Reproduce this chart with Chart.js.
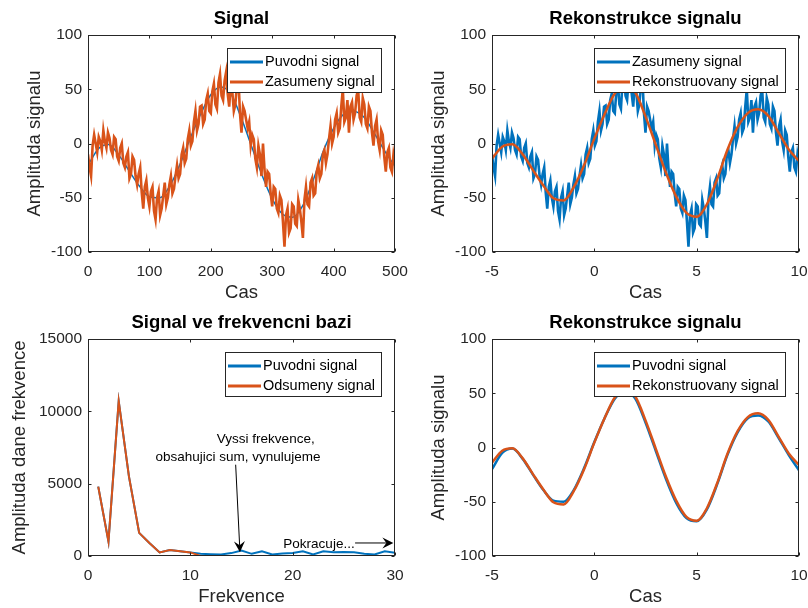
<!DOCTYPE html>
<html>
<head>
<meta charset="utf-8">
<script src="https://cdn.jsdelivr.net/npm/chart.js@4"></script>
<style>
  html, body { margin: 0; padding: 0; background: #fff; }
  #obal { position: relative; width: 808px; height: 608px; }
  #obal canvas { position: absolute; left: 0; top: 0; }
</style>
</head>
<body>
<div id="obal">
  <canvas id="signal" width="808" height="608"></canvas>
  <canvas id="rekonstrukce1" width="808" height="608"></canvas>
  <canvas id="spektrum" width="808" height="608"></canvas>
  <canvas id="rekonstrukce2" width="808" height="608"></canvas>
</div>
<script>
// zasumeny signal, vzorky 0..500 po 2.5
const krokVzorku = 2.5;
const zasumenySignal = [
  -10, -22, -30, -2, 8, 0, -8, 6, 2, -6,
  12, 2, -4, 10, 5, -6, -10, 6, 4, -12,
  -16, -4, 0, -18, -22, -12, -8, -32, -28, -12,
  -15, -30, -38, -28, -22, -45, -60, -40, -34, -50,
  -58, -44, -40, -62, -70, -50, -44, -66, -60, -48,
  -36, -56, -50, -38, -30, -46, -42, -30, -20, -32,
  -28, -10, -4, -18, -14, 4, 12, -2, 2, 20,
  30, 12, 18, 34, 35, 18, 22, 40, 46, 30,
  28, 48, 55, 36, 32, 56, 64, 44, 40, 58,
  66, 46, 34, 56, 48, 30, 36, 54, 60, 28,
  10, 34, 30, 22, 14, 20, -2, 8, 4, -14,
  -22, -2, -10, -30, 0, -24, -40, -26, -28, -46,
  -58, -40, -42, -60, -64, -48, -52, -72, -95, -66,
  -60, -82, -78, -56, -58, -74, -76, -52, -60, -72,
  -87, -52, -40, -56, -58, -36, -32, -48, -46, -26,
  -20, -32, -28, -10, -6, -18, -10, 4, 16, 0,
  6, 22, 28, 10, 14, 34, 50, 20, 24, 40,
  10, 34, 38, 22, 28, 44, 50, 24, 20, 42,
  36, 18, 14, 34, 30, 10, -2, 16, 22, 2,
  -6, 12, 8, -12, -26, -8, -4, -22, -26, -10,
  -18
];

// cas -5..10
const casOsa = [-5, -4.5, -4, -3.5, -3, -2.5, -2, -1.5, -1, -0.5, 0, 0.5, 1, 1.5, 2, 2.5,
  3, 3.5, 4, 4.5, 5, 5.5, 6, 6.5, 7, 7.5, 8, 8.5, 9, 9.5, 10];
const puvodniSignal = [-20, -5, -1, -10.5, -25, -39, -49, -50, -39, -19, 5, 27, 45, 52, 45, 23,
  -3, -29, -51, -65, -68, -57, -34, -7, 14, 27, 29.5, 24, 9, -7, -21];
const rekonstruovanySignal = [-14, -3, -0.8, -10, -24.5, -38.5, -50.5, -52.5, -40, -20, 4.5, 27, 46, 53, 47, 25,
  -1, -27, -49, -64, -67.5, -56, -33, -6, 15, 28, 31.5, 25.5, 10, -5.5, -16];

// frekvencni spektrum
const frekvence = [1, 2, 3, 4, 5, 6, 7, 8, 9, 10, 11, 12, 13, 14, 15,
  16, 17, 18, 19, 20, 21, 22, 23, 24, 25, 26, 27, 28, 29, 30];
const spektrumPuvodni = [4800, 1000, 10700, 5500, 1600, 900, 250, 420, 330, 250, 150, 120, 100, 200, 380,
  150, 330, 100, 180, 200, 320, 100, 320, 260, 280, 260, 160, 100, 320, 220];
const spektrumOdsumeny = [4800, 1000, 10700, 5500, 1600, 900, 250, 420, 330, 250, 0, 0, 0, 0, 0,
  0, 0, 0, 0, 0, 0, 0, 0, 0, 0, 0, 0, 0, 0, 0];

const MODRA = '#0072BD';
const ORANZOVA = '#D95319';
const SEDA = '#262626';
const FONT = "'Liberation Sans', Arial, Helvetica, sans-serif";

Chart.defaults.font.family = FONT;
Chart.defaults.color = SEDA;
Chart.defaults.animation = false;

const vzorkyNaCas = n => -5 + n * 15 / 500;
const casNaVzorky = t => (t + 5) * 500 / 15;

const bodySum = zasumenySignal.map((v, i) => ({ x: i * krokVzorku, y: v }));
const bodySumCas = zasumenySignal.map((v, i) => ({ x: vzorkyNaCas(i * krokVzorku), y: v }));
const bodyPuvodniVzorky = puvodniSignal.map((v, i) => ({ x: casNaVzorky(casOsa[i]), y: v }));
const bodyPuvodni = puvodniSignal.map((v, i) => ({ x: casOsa[i], y: v }));
const bodyRekon = rekonstruovanySignal.map((v, i) => ({ x: casOsa[i], y: v }));
const bodySpektrumP = spektrumPuvodni.map((v, i) => ({ x: frekvence[i], y: v }));
const bodySpektrumO = spektrumOdsumeny.map((v, i) => ({ x: frekvence[i], y: v }));

function sipka(ctx, x1, y1, x2, y2) {
  const a = Math.atan2(y2 - y1, x2 - x1);
  const c = Math.cos(a), s = Math.sin(a);
  const L = 11, W = 5.5, zarez = 7;
  ctx.beginPath();
  ctx.moveTo(x1, y1);
  ctx.lineTo(x2 - c * zarez, y2 - s * zarez);
  ctx.stroke();
  ctx.beginPath();
  ctx.moveTo(x2, y2);
  ctx.lineTo(x2 - L * c - W * s, y2 - L * s + W * c);
  ctx.lineTo(x2 - zarez * c, y2 - zarez * s);
  ctx.lineTo(x2 - L * c + W * s, y2 - L * s - W * c);
  ctx.closePath();
  ctx.fill();
}

// ramecek s tiky dovnitr, legenda v rohu, popisky
const matlabOsy = {
  id: 'matlabOsy',
  afterDraw(chart, args, opts) {
    const { ctx, chartArea: a, scales: { x, y } } = chart;
    ctx.save();
    ctx.strokeStyle = SEDA;
    ctx.lineWidth = 1;
    const L = Math.round(a.left) + 0.5, R = Math.round(a.right) - 0.5;
    const T = Math.round(a.top) + 0.5, B = Math.round(a.bottom) - 0.5;
    ctx.strokeRect(L, T, R - L, B - T);
    ctx.beginPath();
    x.ticks.forEach(t => {
      const px = Math.round(x.getPixelForValue(t.value)) + 0.5;
      ctx.moveTo(px, B); ctx.lineTo(px, B - 3);
      ctx.moveTo(px, T); ctx.lineTo(px, T + 3);
    });
    y.ticks.forEach(t => {
      const py = Math.round(y.getPixelForValue(t.value)) + 0.5;
      ctx.moveTo(L, py); ctx.lineTo(L + 3, py);
      ctx.moveTo(R, py); ctx.lineTo(R - 3, py);
    });
    ctx.stroke();

    // popisky se sipkami
    (opts.popisky || []).forEach(p => {
      ctx.fillStyle = '#000';
      ctx.strokeStyle = '#000';
      ctx.lineWidth = 1;
      ctx.font = '13.5px ' + FONT;
      ctx.textBaseline = 'middle';
      if (p.text) {
        ctx.textAlign = p.align || 'center';
        ctx.fillText(p.text, x.getPixelForValue(p.x), y.getPixelForValue(p.y));
      }
      if (p.sipka) {
        const [x1, y1, x2, y2] = p.sipka;
        sipka(ctx, x.getPixelForValue(x1), y.getPixelForValue(y1), x.getPixelForValue(x2), y.getPixelForValue(y2));
      }
    });

    // legenda
    const ds = chart.data.datasets;
    ctx.font = '14.5px ' + FONT;
    const tw = Math.max(...ds.map(d => ctx.measureText(d.label).width));
    const w = Math.round(44 + tw), h = 44;
    const x0 = Math.round(a.right - 14 - w), y0 = Math.round(a.top + 13);
    ctx.fillStyle = '#fff';
    ctx.fillRect(x0, y0, w, h);
    ctx.strokeStyle = SEDA;
    ctx.lineWidth = 1;
    ctx.strokeRect(x0 + 0.5, y0 + 0.5, w, h);
    ds.forEach((d, i) => {
      const yy = y0 + 14 + i * 20;
      ctx.strokeStyle = d.borderColor;
      ctx.lineWidth = 3;
      ctx.beginPath();
      ctx.moveTo(x0 + 3, yy);
      ctx.lineTo(x0 + 36, yy);
      ctx.stroke();
      ctx.fillStyle = '#000';
      ctx.textAlign = 'left';
      ctx.textBaseline = 'middle';
      ctx.fillText(d.label, x0 + 38, yy);
    });
    ctx.restore();
  }
};

function graf(id, ox, oy, o) {
  const titulPul = 18.5 * 1.2 / 2;
  const padLeft = ox + o.yStred - titulPul;
  const yWidth = ox + 88 - padLeft;
  const osa = (min, max, step, text) => ({
    type: 'linear', min, max,
    ticks: { stepSize: step, color: SEDA, font: { size: 15.5 }, maxRotation: 0, autoSkip: false,
      callback: v => String(v) },
    grid: { display: false, drawTicks: false },
    border: { display: false },
    title: { display: true, text, color: SEDA, font: { size: 18.5 }, padding: 0 }
  });
  const sx = osa(o.x[0], o.x[1], o.x[2], o.x[3]);
  sx.ticks.padding = 10;
  sx.afterFit = s => { s.height = 52; s.paddingLeft = 0; s.paddingRight = 0; };
  const sy = osa(o.y[0], o.y[1], o.y[2], o.y[3]);
  sy.ticks.padding = 6;
  sy.afterFit = s => { s.width = yWidth; s.paddingTop = 0; s.paddingBottom = 0; };

  // druha rada se kresli navrch
  o.datasets.forEach((d, i) => { d.order = o.datasets.length - i; });

  return new Chart(document.getElementById(id), {
    type: 'line',
    data: { datasets: o.datasets },
    options: {
      responsive: false,
      animation: false,
      events: [],
      layout: { padding: { left: padLeft, right: 808 - ox - 395, top: oy, bottom: 304 - oy } },
      elements: { point: { radius: 0 } },
      scales: { x: sx, y: sy },
      plugins: {
        legend: { display: false },
        tooltip: { enabled: false },
        title: { display: true, text: o.titul, fullSize: false, color: '#000',
          font: { size: 18.5, weight: 'bold' }, padding: { top: 8, bottom: 4.8 } },
        matlabOsy: { popisky: o.popisky || [] }
      }
    },
    plugins: [matlabOsy]
  });
}

const hladka = { tension: 0.4, cubicInterpolationMode: 'monotone', fill: false };

graf('signal', 0, 0, {
  titul: 'Signal', yStred: 34.5,
  x: [0, 500, 100, 'Cas'], y: [-100, 100, 50, 'Amplituda signalu'],
  datasets: [
    { label: 'Puvodni signal', data: bodyPuvodniVzorky, borderColor: MODRA, borderWidth: 1.5, ...hladka },
    { label: 'Zasumeny signal', data: bodySum, borderColor: ORANZOVA, borderWidth: 2.6, tension: 0, fill: false }
  ]
});

graf('rekonstrukce1', 404, 0, {
  titul: 'Rekonstrukce signalu', yStred: 34.5,
  x: [-5, 10, 5, 'Cas'], y: [-100, 100, 50, 'Amplituda signalu'],
  datasets: [
    { label: 'Zasumeny signal', data: bodySumCas, borderColor: MODRA, borderWidth: 2.6, tension: 0, fill: false },
    { label: 'Rekonstruovany signal', data: bodyRekon, borderColor: ORANZOVA, borderWidth: 2.5, ...hladka }
  ]
});

graf('spektrum', 0, 304, {
  titul: 'Signal ve frekvencni bazi', yStred: 20,
  x: [0, 30, 10, 'Frekvence'], y: [0, 15000, 5000, 'Amplituda dane frekvence'],
  datasets: [
    { label: 'Puvodni signal', data: bodySpektrumP, borderColor: MODRA, borderWidth: 2, tension: 0, fill: false },
    { label: 'Odsumeny signal', data: bodySpektrumO, borderColor: ORANZOVA, borderWidth: 2, tension: 0, fill: false }
  ],
  popisky: [
    { text: 'Vyssi frekvence,', x: 17.37, y: 8087 },
    { text: 'obsahujici sum, vynulujeme', x: 14.66, y: 6843 },
    { sipka: [14.43, 6311, 14.85, 256] },
    { text: 'Pokracuje...', x: 19.09, y: 830, align: 'left' },
    { sipka: [26.1, 900, 29.84, 900] }
  ]
});

graf('rekonstrukce2', 404, 304, {
  titul: 'Rekonstrukce signalu', yStred: 34.5,
  x: [-5, 10, 5, 'Cas'], y: [-100, 100, 50, 'Amplituda signalu'],
  datasets: [
    { label: 'Puvodni signal', data: bodyPuvodni, borderColor: MODRA, borderWidth: 2.5, ...hladka },
    { label: 'Rekonstruovany signal', data: bodyRekon, borderColor: ORANZOVA, borderWidth: 2.5, ...hladka }
  ]
});
</script>
</body>
</html>
